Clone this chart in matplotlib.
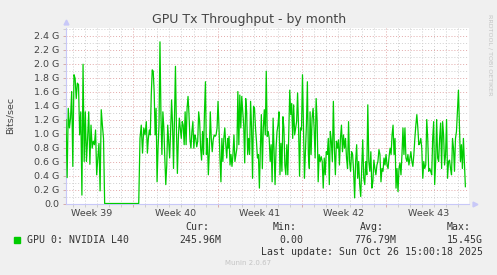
import numpy as np
import matplotlib.pyplot as plt
from matplotlib import transforms
from matplotlib.patches import Rectangle

# throughput in Gbit/s
# time axis: days relative to Mon Sep 29 2025 00:00 (start of week 40)
seg_a_span = (-5.59, -2.38)
seg_a = [1.2, 0.37, 1.36, 1.08, 1.22, 1.6, 0.53, 1.84, 1.79, 1.5, 1.72, 1.70,
         0.98, 1.31, 0.12, 1.99, 0.6, 1.31, 0.6, 0.93, 1.31, 0.56, 1.12, 0.79,
         0.89, 0.84, 1.05, 0.41, 0.65, 0.86, 0.18, 1.34, 1.12, 0.93, 0.0]

seg_b_span = (0.45, 1.08)
seg_b = [0.0, 0.93, 1.12, 0.72, 1.08, 0.98, 1.17]

seg_c_span = (1.17, 7.84)
seg_c = [0.72, 0.93, 1.05, 0.98, 1.55, 1.91, 1.89, 1.6, 0.98, 1.36, 0.31, 0.79,
         1.12, 2.31, 1.27, 0.70, 1.31, 1.08, 0.65, 0.27, 0.55, 1.12, 0.89, 0.65,
         1.03, 1.48, 1.12, 0.50, 1.27, 1.96, 1.08, 0.43, 0.93, 1.22, 1.08, 0.93,
         1.17, 1.12, 0.84, 1.31, 0.84, 1.36, 1.53, 1.27, 0.91, 0.79, 1.03, 1.17,
         0.79, 0.98, 0.93, 0.81, 0.89, 1.31, 1.17, 0.79, 0.62, 1.03, 0.70, 1.31,
         1.74, 0.70, 0.93, 0.41, 0.74, 1.31, 0.93, 0.74, 0.91, 0.98, 0.96, 0.98,
         1.08, 1.46, 1.08, 0.65, 0.31, 0.93, 0.60, 0.93, 1.08, 0.84, 0.65, 0.93]

seg_d_span = (7.87, 14.62)
seg_d = [0.79, 0.96, 0.55, 0.70, 0.53, 0.70, 0.98, 0.60, 0.70, 0.79, 1.60, 0.84,
         1.55, 1.08, 1.53, 1.31, 1.12, 0.58, 1.50, 1.31, 0.70, 0.93, 0.70, 1.46,
         1.08, 0.36, 1.39, 1.36, 1.08, 0.89, 0.65, 0.70, 0.22, 0.79, 1.27, 0.50,
         1.08, 1.34, 0.98, 1.89, 0.96, 1.03, 0.93, 0.60, 0.84, 0.31, 1.22, 0.74,
         0.27, 0.79, 1.03, 1.12, 1.31, 0.41, 0.86, 0.46, 1.24, 1.08, 0.55, 0.41,
         0.84, 0.41, 1.03, 1.62, 1.27, 1.43, 0.93, 1.41, 0.98, 1.08, 1.17, 1.58,
         1.08, 0.39, 1.08, 1.05, 1.84, 1.08, 0.36, 0.74, 1.12, 1.74, 0.70, 0.50]

seg_e_span = (14.68, 21.41)
seg_e = [1.31, 0.70, 1.22, 1.36, 1.08, 0.65, 1.50, 1.17, 0.31, 0.70, 0.60, 0.67,
         0.60, 0.22, 0.65, 0.41, 0.74, 0.70, 0.93, 0.27, 1.03, 0.89, 0.60, 1.46,
         0.79, 0.41, 0.89, 0.79, 0.91, 0.55, 0.93, 1.12, 0.74, 0.98, 0.79, 0.93,
         0.65, 0.50, 1.17, 0.60, 0.46, 0.74, 0.70, 0.46, 0.08, 0.60, 0.84, 0.36,
         0.60, 0.27, 0.10, 0.50, 0.91, 0.36, 0.27, 0.60, 0.41, 1.41, 0.60, 0.46,
         0.74, 0.22, 0.31, 0.62, 0.50, 0.41, 0.55, 0.60, 0.77, 0.70, 0.31, 0.50,
         0.46, 0.65, 0.55, 0.70, 0.55, 0.50, 0.67, 0.79, 0.70]

seg_f_span = (21.49, 27.58)
seg_f = [0.98, 1.12, 0.70, 0.93, 0.22, 0.50, 0.17, 0.50, 0.58, 0.41, 0.70, 1.08,
         0.70, 1.08, 0.65, 0.60, 0.70, 0.55, 0.65, 0.74, 0.60, 0.53, 0.70, 0.93,
         1.12, 1.27, 1.08, 0.84, 0.86, 0.93, 0.79, 0.36, 0.60, 0.50, 0.55, 1.20,
         0.93, 0.46, 0.50, 0.46, 0.41, 0.93, 1.17, 0.27, 0.60, 1.20, 0.65, 0.60,
         0.93, 1.15, 0.50, 1.17, 0.98, 0.55, 0.70, 1.20, 0.36, 0.60, 0.62, 0.50,
         0.41, 0.93, 0.79, 0.46, 0.93, 1.03, 1.31, 1.62, 1.12, 0.60, 0.84, 0.50,
         0.93, 0.60, 0.24]

weeks = [39, 40, 41, 42, 43]
week_starts = [-7, 0, 7, 14, 21]
x_range = (-5.59, 27.88)

legend_name = "GPU 0: NVIDIA L40"
stat_heads = ["Cur:", "Min:", "Avg:", "Max:"]
stat_values = ["245.96M", "0.00", "776.79M", "15.45G"]
last_update = "Last update: Sun Oct 26 15:00:18 2025"

segments = [(seg_a_span, seg_a), (seg_b_span, seg_b), (seg_c_span, seg_c),
            (seg_d_span, seg_d), (seg_e_span, seg_e), (seg_f_span, seg_f)]
days = np.concatenate([np.linspace(s[0], s[1], len(v)) for s, v in segments])
gbps = np.concatenate([v for _, v in segments])

W, H = 497, 275
fig = plt.figure(figsize=(W / 100, H / 100), dpi=100, facecolor='#f0f0f0')
ax = fig.add_axes([66 / W, (H - 203.5) / H, 403 / W, 176 / H])
ax.set_facecolor('white')

ax.plot(days, gbps, color='#00cc00', lw=0.9, zorder=3)

ax.set_xlim(*x_range)
ax.set_ylim(0, 2.515)

# grid: grey every day / 0.1G, red every week / 0.2G
dot = (0, (1, 2))
ax.set_yticks(np.arange(0, 2.41, 0.2))
ax.set_yticks(np.arange(0.1, 2.51, 0.2), minor=True)
ax.set_xticks(week_starts[1:])
ax.set_xticks([d for d in range(-5, 28) if d % 7], minor=True)
ax.grid(which='major', color='#e2a8a8', lw=0.7, linestyle=dot)
ax.grid(which='minor', color='#cfcfcf', lw=0.7, linestyle=dot)
ax.set_axisbelow(True)

ax.set_yticklabels(['0.0' if v < 0.01 else f'{v:.1f} G' for v in np.arange(0, 2.41, 0.2)],
                   fontsize=6.8, color='#444444')
ax.set_xticklabels([])
ax.tick_params(axis='both', which='both', length=2, width=0.6, color='#d0a0a0', pad=3)
ax.tick_params(axis='x', which='minor', color='#c8c8c8')
ax.tick_params(axis='y', which='minor', color='#c8c8c8')

for s in ['top', 'right']:
    ax.spines[s].set_visible(False)
for s in ['left', 'bottom']:
    ax.spines[s].set_color('#c8c8f8')
    ax.spines[s].set_linewidth(0.8)
ax.plot([1.015], [0], marker='>', ms=3.5, color='#c8c8f8', transform=ax.transAxes, clip_on=False)
ax.plot([0], [1.03], marker='^', ms=3.5, color='#c8c8f8', transform=ax.transAxes, clip_on=False)

# week labels centred on each week
tr = transforms.blended_transform_factory(ax.transData, fig.transFigure)
for wk, start in zip(weeks, week_starts):
    ax.text(start + 3.5, 1 - 213 / H, f"Week {wk}", transform=tr, ha='center', va='center',
            fontsize=6.8, color='#444444')

fig.text(249 / W, 1 - 20 / H, "GPU Tx Throughput - by month", ha='center', va='center',
         fontsize=9, color='#444444')
fig.text(10 / W, 1 - 115 / H, "Bits/sec", rotation=90, ha='center', va='center',
         fontsize=6.8, color='#444444')
fig.text(490 / W, 1 - 14 / H, "RRDTOOL / TOBI OETIKER", rotation=270, ha='center', va='top',
         fontsize=4.6, color='#c4c4c4')

mono = dict(family='DejaVu Sans Mono', fontsize=7.1, color='#333333', va='center')
fig.patches.append(Rectangle((14 / W, 1 - 243 / H), 6 / W, 6 / H, color='#00cc00',
                             transform=fig.transFigure, figure=fig))
fig.text(27 / W, 1 - 240 / H, legend_name, **mono)
for head, val, hx, vx in zip(stat_heads, stat_values, [185, 273, 360, 447], [221, 303, 396, 483]):
    fig.text(hx / W, 1 - 227.5 / H, head, ha='left', **mono)
    fig.text(vx / W, 1 - 240 / H, val, ha='right', **mono)
fig.text(483 / W, 1 - 252 / H, last_update, ha='right', **mono)
fig.text(248 / W, 1 - 263 / H, "Munin 2.0.67", ha='center', va='center', fontsize=5,
         color='#c4c4c4')

fig.savefig('out.png', dpi=100, facecolor=fig.get_facecolor())
